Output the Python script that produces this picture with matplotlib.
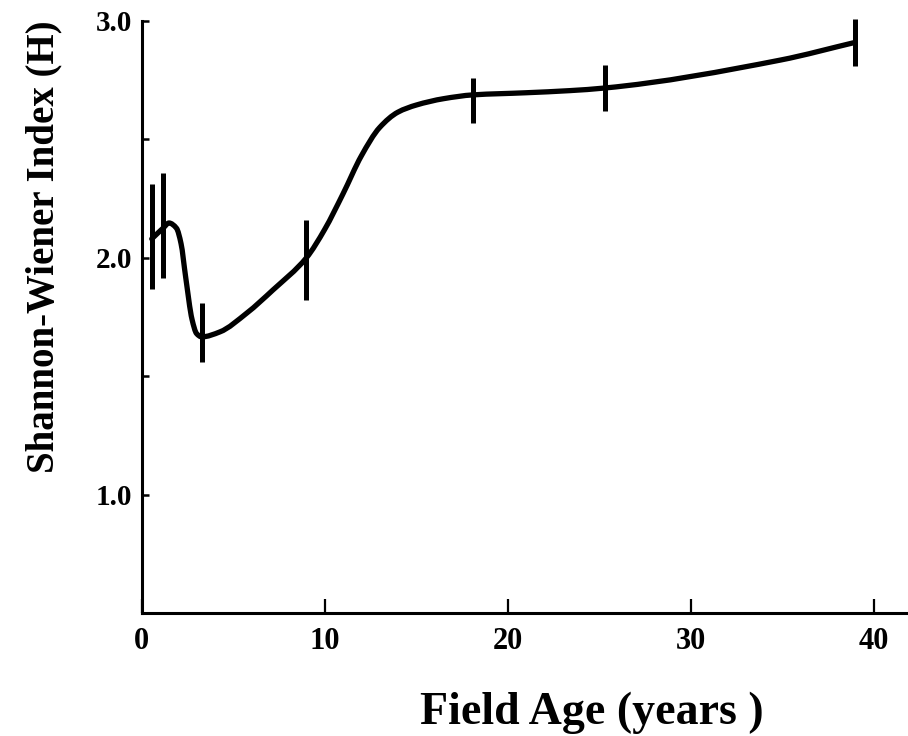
import numpy as np
import matplotlib
matplotlib.use("Agg")
import matplotlib.pyplot as plt
from matplotlib.path import Path
from matplotlib.patches import PathPatch

# ---- data ----
field_age = [0.55, 1.18, 3.28, 9.0, 18.1, 25.3, 39.0]
index_mean = [2.09, 2.136, 1.685, 1.99, 2.664, 2.717, 2.909]
index_err = [0.222, 0.222, 0.125, 0.169, 0.095, 0.097, 0.099]

# hand-drawn trend line
curve_age = [0.55, 1.18, 1.49, 1.9, 2.15, 2.4, 2.75, 3.0, 3.28, 4.27, 5.75,
             7.17, 9.0, 10.0, 11.0, 12.0, 13.0, 14.0, 15.0, 16.5, 18.1, 21.0,
             23.4, 25.3, 34.9, 39.0]
curve_index = [2.08, 2.126, 2.147, 2.125, 2.06, 1.92, 1.74, 1.68, 1.666, 1.687,
               1.767, 1.864, 2.0, 2.12, 2.27, 2.43, 2.55, 2.615, 2.645, 2.672,
               2.688, 2.697, 2.706, 2.717, 2.835, 2.91]

x_ticks = [0, 10, 20, 30, 40]
x_tick_labels = ["0", "10", "20", "30", "40"]
y_ticks = [1.0, 1.5, 2.0, 2.5, 3.0]
y_tick_labels = ["1.0", "", "2.0", "", "3.0"]

x_label = "Field Age (years )"
y_label = "Shannon-Wiener Index (H)"

plt.rcParams["font.family"] = ["Liberation Serif", "DejaVu Serif"]
plt.rcParams["font.weight"] = "bold"

fig = plt.figure(figsize=(9.08, 7.36), dpi=100)
ax = fig.add_axes([141.7 / 908, 123 / 736, 1 - 141.7 / 908, (613 - 21) / 736])
ax.set_xlim(0, (908 - 141.7) / 18.3)
ax.set_ylim(0.5, 3.0)


def hermite_slopes(x, y):
    x = np.asarray(x, float)
    y = np.asarray(y, float)
    h = np.diff(x)
    d = np.diff(y) / h
    m = np.zeros_like(x)
    m[0] = d[0]
    m[-1] = d[-1]
    for k in range(1, len(x) - 1):
        if d[k - 1] * d[k] <= 0:
            m[k] = 0.0
        else:
            w1 = 2 * h[k] + h[k - 1]
            w2 = h[k] + 2 * h[k - 1]
            m[k] = (w1 + w2) / (w1 / d[k - 1] + w2 / d[k])
    return m


# smooth line through the traced points as cubic Bezier segments
cx = np.asarray(curve_age, float)
cy = np.asarray(curve_index, float)
cm = hermite_slopes(cx, cy)
verts = [(cx[0], cy[0])]
codes = [Path.MOVETO]
for i in range(len(cx) - 1):
    h = cx[i + 1] - cx[i]
    verts += [(cx[i] + h / 3, cy[i] + cm[i] * h / 3),
              (cx[i + 1] - h / 3, cy[i + 1] - cm[i + 1] * h / 3),
              (cx[i + 1], cy[i + 1])]
    codes += [Path.CURVE4] * 3
ax.add_patch(PathPatch(Path(verts, codes), facecolor="none", edgecolor="black",
                       lw=3.8, capstyle="round", joinstyle="round", clip_on=False))

eb = ax.errorbar(field_age, index_mean, yerr=index_err, fmt="none",
                 ecolor="black", elinewidth=3.6, capsize=0, clip_on=False)
for c in eb.get_children():
    c.set_clip_on(False)

for s in ["top", "right"]:
    ax.spines[s].set_visible(False)
for s in ["left", "bottom"]:
    ax.spines[s].set_linewidth(2.2)

ax.set_xticks(x_ticks)
ax.set_xticklabels(x_tick_labels)
ax.set_yticks(y_ticks)
ax.set_yticklabels(y_tick_labels)
ax.tick_params(axis="x", direction="in", length=10, width=1.6, pad=10,
               labelsize=22)
ax.tick_params(axis="y", direction="in", length=5, width=1.8, pad=7,
               labelsize=21)
for lab in ax.get_xticklabels() + ax.get_yticklabels():
    lab.set_fontweight("bold")

fig.text(592 / 908, 1 - 713 / 736, x_label, ha="center", va="center",
         fontsize=33, fontweight="bold")
fig.text(44 / 908, 1 - 246.5 / 736, y_label, ha="center", va="center",
         rotation=90, fontsize=28, fontweight="bold")

fig.savefig("out.png", dpi=100)
